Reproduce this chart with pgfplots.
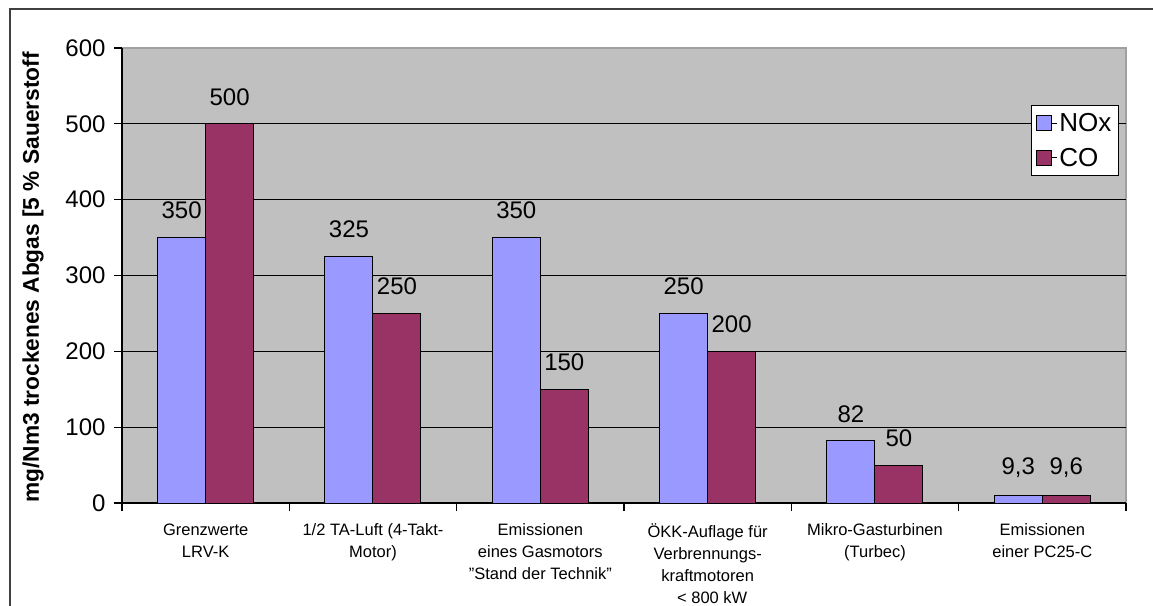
\documentclass[border=0pt]{standalone}
\usepackage{pgfplots}
\pgfplotsset{compat=1.18}
\usepackage{fontspec}
\setmainfont{Liberation Sans}
\begin{document}
\begin{tikzpicture}[x=1pt,y=1pt]
  % colours as in the old Excel palette
  \definecolor{plotbg}{RGB}{192,192,192}
  \definecolor{plotedge}{RGB}{160,160,160}
  \definecolor{noxblue}{RGB}{153,153,255}
  \definecolor{cored}{RGB}{153,51,102}
  \useasboundingbox (0pt,0pt) rectangle (1153pt,605pt);
  % outer chart frame (only left and top visible)
  \draw[line width=2pt, black!75] (10pt,-5pt) -- (10pt,596pt) -- (1160pt,596pt);
  \begin{axis}[
      at={(122pt,102pt)}, anchor=south west,
      scale only axis,
      width=1004pt, height=455pt,
      xmin=-0.5, xmax=5.5,
      ymin=0, ymax=600,
      axis x line*=bottom,
      axis y line*=left,
      axis line style={-, black, line width=1.2pt},
      axis background/.style={fill=plotbg, draw=plotedge, line width=1.5pt},
      ybar=0pt,
      bar width=48pt,
      tick align=outside,
      major tick length=8pt,
      tick style={black, line width=1.2pt},
      ytick={0,100,...,600},
      yticklabel style={font=\fontsize{24}{26}\selectfont, xshift=-5pt},
      xtick={-0.5,0.5,1.5,2.5,3.5,4.5,5.5},
      xticklabels={},
      extra x ticks={0,1,2,3,4,5},
      extra x tick labels={
        {Grenzwerte\\LRV-K},
        {1/2 TA-Luft (4-Takt-\\Motor)},
        {Emissionen\\eines Gasmotors\\\char"22 Stand der Technik\char"22},
        {ÖKK-Auflage für\\Verbrennungs-\\kraftmotoren\\\ \ \textless{} 800 kW},
        {Mikro-Gasturbinen\\(Turbec)},
        {Emissionen\\einer PC25-C}},
      extra x tick style={tick style={draw=none},
        xticklabel style={align=center, anchor=north, yshift=-9pt,
          font=\fontsize{16.5}{22}\selectfont}},
      extra y ticks={100,200,300,400,500},
      extra y tick labels={},
      extra y tick style={grid=major, tick style={draw=none}},
      major grid style={black, line width=1.2pt},
      /pgf/number format/assume math mode=true,
      nodes near coords,
      point meta=explicit symbolic,
      every node near coord/.append style={font=\fontsize{24}{26}\selectfont,
        anchor=south, inner sep=0pt, yshift=18pt, black},
      legend style={at={(0.993,0.875)}, anchor=north east,
        draw=black, fill=white, line width=1pt,
        font=\fontsize{26}{30}\selectfont,
        inner xsep=5pt, inner ysep=6pt,
        row sep=11pt},
      legend cell align=left,
      legend image code/.code={%
        \draw[#1, draw=black, line width=1pt] (0pt,-7.5pt) rectangle (15pt,7.5pt);
        \path (15pt,0pt) -- (20pt,0pt);},
    ]
    \addplot[fill=noxblue, draw=black, line width=1pt] coordinates {
        (0,350) [350]
        (1,325) [325]
        (2,350) [350]
        (3,250) [250]
        (4,82)  [82]
        (5,9.3) [{9,3}]
      };
    \addplot[fill=cored, draw=black, line width=1pt] coordinates {
        (0,500) [500]
        (1,250) [250]
        (2,150) [150]
        (3,200) [200]
        (4,50)  [50]
        (5,9.6) [{9,6}]
      };
    \legend{NOx,CO}
  \end{axis}
  % y label, placed as in the reference
  \node[rotate=90, font=\fontsize{22.7}{26}\selectfont\bfseries, anchor=center]
    at (33pt,327.5pt) {mg/Nm3 trockenes Abgas [5 \% Sauerstoff};
\end{tikzpicture}
\end{document}
